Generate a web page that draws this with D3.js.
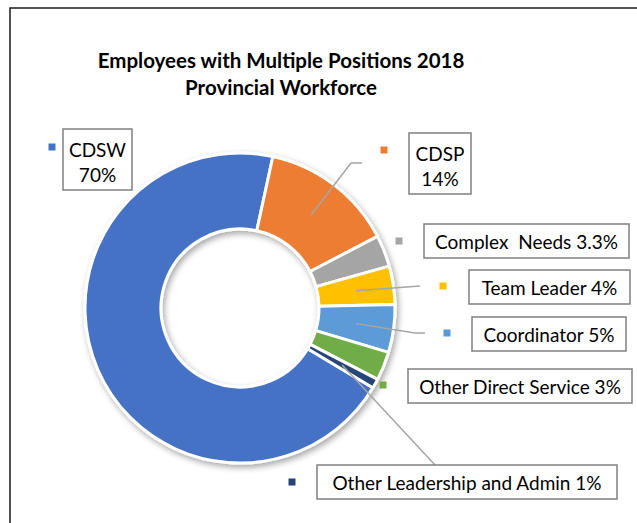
<!DOCTYPE html>
<html>
<head>
<meta charset="utf-8">
<script src="https://cdn.jsdelivr.net/npm/d3@7"></script>
<style>
  body { margin: 0; background: #fff; }
  svg { display: block; font-family: Lato, "Liberation Sans", sans-serif; }
</style>
</head>
<body>
<div id="chart"></div>
<script>
// Data
const categories = ["CDSW", "CDSP", "Complex  Needs", "Team Leader", "Coordinator",
                    "Other Direct Service", "Other Leadership and Admin"];
const values = [70, 14, 3.3, 4, 5, 3, 1];
const labelTexts = [["CDSW", "70%"], ["CDSP", "14%"], ["Complex  Needs 3.3%"], ["Team Leader 4%"],
                    ["Coordinator 5%"], ["Other Direct Service 3%"], ["Other Leadership and Admin 1%"]];
const colors = ["#4472C4", "#ED7D31", "#A5A5A5", "#FFC000", "#5B9BD5", "#70AD47", "#264478"];

// Label box layout (x, y, w, h) and legend-key position; leader bend/end points
const labelBoxes = [
  {x: 63, y: 129, w: 69, h: 61, kx: 52, ky: 147},
  {x: 409, y: 133, w: 62, h: 61, kx: 384, ky: 150},
  {x: 424, y: 224, w: 205, h: 34, kx: 399, ky: 241},
  {x: 469, y: 270, w: 161, h: 34, kx: 443, ky: 286},
  {x: 472, y: 317, w: 154, h: 34, kx: 447, ky: 333},
  {x: 408, y: 369, w: 224, h: 34, kx: 383, ky: 385},
  {x: 317, y: 465, w: 300, h: 34, kx: 292, ky: 482}
];
const leaders = {
  1: [[351, 163], [362, 163]],
  3: [[420, 286]],
  4: [[415, 333], [425, 333]],
  6: [[435, 465]]
};

const width = 637, height = 523;
const cx = 240, cy = 308, outerR = 155, innerR = 79;

const svg = d3.select("#chart").append("svg")
    .attr("width", width)
    .attr("height", height);

// Shadow filter for the ring
const defs = svg.append("defs");
defs.append("filter")
    .attr("id", "shadow")
    .attr("x", "-20%").attr("y", "-20%")
    .attr("width", "140%").attr("height", "140%")
  .append("feDropShadow")
    .attr("dx", 2).attr("dy", 3)
    .attr("stdDeviation", 3)
    .attr("flood-color", "#000")
    .attr("flood-opacity", 0.35);

// Chart frame
svg.append("rect")
    .attr("x", 10).attr("y", 8)
    .attr("width", 640).attr("height", 530)
    .attr("fill", "#fff")
    .attr("stroke", "#1a1a1a")
    .attr("stroke-width", 1.5);

// Title
const title = svg.append("text")
    .attr("x", 281)
    .attr("text-anchor", "middle")
    .attr("font-weight", "bold")
    .attr("font-size", 20.5)
    .attr("fill", "#000");
title.append("tspan").attr("x", 281).attr("y", 68).text("Employees with Multiple Positions 2018");
title.append("tspan").attr("x", 281).attr("y", 95).text("Provincial Workforce");

// Donut
const deg = Math.PI / 180;
const pie = d3.pie()
    .sort(null)
    .startAngle(121 * deg)
    .endAngle(481 * deg);
const arc = d3.arc().innerRadius(innerR).outerRadius(outerR);
const arcs = pie(values);

const ring = svg.append("g")
    .attr("transform", `translate(${cx},${cy})`)
    .attr("filter", "url(#shadow)");

ring.selectAll("path")
    .data(arcs)
    .enter()
    .append("path")
    .attr("d", arc)
    .attr("fill", (d, i) => colors[i])
    .attr("stroke", "#fff")
    .attr("stroke-width", 3)
    .attr("stroke-linejoin", "round");

// Leader lines from slice centroids
const line = d3.line();
Object.keys(leaders).forEach(k => {
    const c = arc.centroid(arcs[k]);
    const pts = [[c[0] + cx, c[1] + cy]].concat(leaders[k]);
    svg.append("path")
        .attr("d", line(pts))
        .attr("fill", "none")
        .attr("stroke", "#A6A6A6")
        .attr("stroke-width", 1.5);
});

// Labels
labelBoxes.forEach((b, i) => {
    svg.append("rect")
        .attr("x", b.kx - 3.5).attr("y", b.ky - 3.5)
        .attr("width", 7).attr("height", 7)
        .attr("fill", colors[i]);

    svg.append("rect")
        .attr("x", b.x).attr("y", b.y)
        .attr("width", b.w).attr("height", b.h)
        .attr("fill", "#fff")
        .attr("stroke", "#808080")
        .attr("stroke-width", 1.5);

    const lines = labelTexts[i];
    const t = svg.append("text")
        .attr("text-anchor", "middle")
        .attr("font-size", 19)
        .attr("fill", "#000")
        .style("white-space", "pre");
    lines.forEach((s, j) => {
        t.append("tspan")
            .attr("x", b.x + b.w / 2)
            .attr("y", lines.length > 1 ? b.y + 28 + j * 25 : b.y + 24.5)
            .text(s);
    });
});
</script>
</body>
</html>
